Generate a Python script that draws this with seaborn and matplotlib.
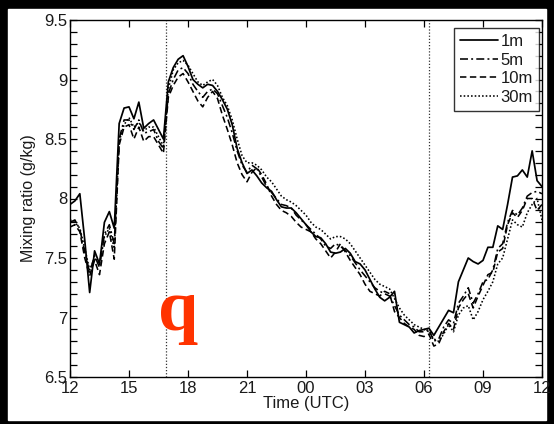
"""Near-surface mixing ratio at four heights, 12 UTC to 12 UTC."""

import matplotlib
matplotlib.use("Agg")
import matplotlib.pyplot as plt
from matplotlib.patches import Rectangle
from matplotlib.ticker import MultipleLocator, FixedLocator, FuncFormatter
import numpy as np
import pandas as pd
import seaborn as sns

sns.set_theme(style="white")
plt.rcParams["font.family"] = ["Liberation Sans", "DejaVu Sans"]

# hours after 12 UTC, 15-min steps
hours = [i * 0.25 for i in range(97)]
heights = ["1m", "5m", "10m", "30m"]

q_1m = [7.95, 7.98, 8.04, 7.65, 7.21, 7.56, 7.45, 7.80, 7.89, 7.75,
        8.63, 8.76, 8.77, 8.67, 8.81, 8.59, 8.63, 8.66, 8.58, 8.50,
        8.98, 9.10, 9.17, 9.20, 9.11, 9.00, 8.96, 8.93, 8.96, 8.95,
        8.90, 8.83, 8.75, 8.62, 8.42, 8.30, 8.21, 8.24, 8.19, 8.13,
        8.09, 8.06, 7.99, 7.93, 7.92, 7.92, 7.88, 7.83, 7.78, 7.72,
        7.68, 7.67, 7.62, 7.55, 7.54, 7.55, 7.58, 7.54, 7.47, 7.45,
        7.40, 7.32, 7.24, 7.17, 7.14, 7.17, 7.22, 6.96, 6.94, 6.92,
        6.87, 6.89, 6.90, 6.91, 6.85, 6.92, 6.99, 7.06, 7.04, 7.30,
        7.40, 7.50, 7.47, 7.45, 7.48, 7.59, 7.59, 7.77, 7.74, 7.95,
        8.18, 8.19, 8.24, 8.18, 8.40, 8.15, 8.10]
q_5m = [7.80, 7.82, 7.74, 7.55, 7.38, 7.52, 7.42, 7.70, 7.78, 7.62,
        8.50, 8.66, 8.66, 8.58, 8.66, 8.55, 8.56, 8.58, 8.48, 8.42,
        8.88, 9.00, 9.08, 9.10, 9.05, 8.96, 8.90, 8.85, 8.90, 8.92,
        8.88, 8.78, 8.68, 8.55, 8.40, 8.28, 8.22, 8.28, 8.25, 8.18,
        8.10, 8.05, 8.00, 7.95, 7.94, 7.92, 7.86, 7.82, 7.78, 7.74,
        7.70, 7.66, 7.60, 7.58, 7.62, 7.60, 7.56, 7.52, 7.46, 7.40,
        7.35, 7.30, 7.25, 7.22, 7.20, 7.18, 7.10, 7.02, 6.98, 6.94,
        6.92, 6.88, 6.88, 6.90, 6.80, 6.82, 6.92, 6.98, 6.95, 7.12,
        7.18, 7.25, 7.12, 7.20, 7.30, 7.32, 7.40, 7.58, 7.62, 7.80,
        7.90, 7.86, 7.92, 8.02, 8.05, 8.06, 8.04]
q_10m = [7.76, 7.78, 7.72, 7.50, 7.35, 7.48, 7.36, 7.62, 7.72, 7.49,
         8.45, 8.60, 8.62, 8.50, 8.60, 8.48, 8.52, 8.52, 8.45, 8.38,
         8.85, 8.95, 9.02, 9.05, 8.98, 8.90, 8.82, 8.77, 8.85, 8.90,
         8.84, 8.70, 8.58, 8.45, 8.30, 8.20, 8.14, 8.22, 8.26, 8.20,
         8.12, 8.02, 7.95, 7.90, 7.88, 7.85, 7.80, 7.76, 7.74, 7.72,
         7.66, 7.62, 7.56, 7.50, 7.55, 7.62, 7.55, 7.48, 7.42, 7.36,
         7.28, 7.22, 7.20, 7.18, 7.22, 7.20, 7.05, 7.00, 6.95, 6.92,
         6.90, 6.85, 6.84, 6.86, 6.76, 6.78, 6.88, 6.95, 6.90, 7.08,
         7.15, 7.20, 7.08, 7.18, 7.27, 7.36, 7.38, 7.55, 7.58, 7.78,
         7.88, 7.84, 7.90, 8.00, 8.00, 7.90, 7.95]
q_30m = [7.82, 7.80, 7.75, 7.58, 7.40, 7.50, 7.45, 7.68, 7.75, 7.58,
         8.48, 8.62, 8.68, 8.60, 8.64, 8.57, 8.60, 8.60, 8.52, 8.44,
         8.92, 9.08, 9.14, 9.16, 9.12, 9.05, 8.98, 8.95, 8.98, 9.00,
         8.95, 8.85, 8.78, 8.66, 8.50, 8.36, 8.30, 8.30, 8.28, 8.24,
         8.18, 8.14, 8.08, 8.02, 7.99, 7.97, 7.94, 7.90, 7.86, 7.80,
         7.76, 7.74, 7.70, 7.66, 7.68, 7.68, 7.66, 7.62, 7.56, 7.50,
         7.44, 7.38, 7.32, 7.28, 7.26, 7.24, 7.16, 7.08, 7.02, 6.98,
         6.94, 6.92, 6.90, 6.88, 6.82, 6.80, 6.86, 6.94, 6.88, 7.02,
         7.08, 7.10, 6.98, 7.05, 7.15, 7.22, 7.30, 7.45, 7.50, 7.66,
         7.82, 7.78, 7.76, 7.88, 7.95, 8.00, 7.82]

tick_labels = ["12", "15", "18", "21", "00", "03", "06", "09", "12"]
marker_hours = [4.9, 18.27]   # dotted reference times (16:54 and 06:16 UTC)

series = {"1m": q_1m, "5m": q_5m, "10m": q_10m, "30m": q_30m}
line_styles = {"1m": "-", "5m": (0, (5, 2, 1.2, 2)), "10m": (0, (4, 2.2)), "30m": (0, (1, 1.3))}
ink = "#1a1a1a"

fig = plt.figure(figsize=(5.54, 4.24), dpi=100, facecolor="black")
fig.patches.append(Rectangle((8 / 554, 4 / 424), 538 / 554, 411 / 424,
                             transform=fig.transFigure, facecolor="white", zorder=-10))
ax = fig.add_axes([70 / 554, 47 / 424, 472 / 554, 357 / 424])
ax.set_facecolor("white")

for name in heights:
    sns.lineplot(x=hours, y=series[name], color="black", linestyle=line_styles[name],
                 linewidth=1.25 if name == "1m" else 1.15, label=name, ax=ax)

for h in marker_hours:
    ax.axvline(h, color="#333333", linestyle=(0, (1, 1.5)), linewidth=0.9, zorder=1)

ax.text(5.5, 6.895, "q", color="#ff3300", fontsize=52, fontweight="bold",
        family=["Liberation Serif", "DejaVu Serif"], ha="center", va="baseline", zorder=5)

ax.set_xlim(0, 24)
ax.set_ylim(6.5, 9.5)
ax.xaxis.set_major_locator(FixedLocator(np.arange(0, 25, 3)))
ax.set_xticklabels(tick_labels)
ax.yaxis.set_major_locator(MultipleLocator(0.5))
ax.yaxis.set_minor_locator(MultipleLocator(0.1))
ax.yaxis.set_major_formatter(FuncFormatter(lambda v, p: f"{v:g}"))
ax.tick_params(which="both", direction="in", top=True, right=True, bottom=True, left=True,
               length=5, width=0.9, color="black", labelsize=12, labelcolor=ink, pad=3)
ax.tick_params(axis="y", pad=2)
for s in ax.spines.values():
    s.set_color("black"); s.set_linewidth(1.0)

ax.set_xlabel("Time (UTC)", fontsize=12, color=ink, labelpad=0)
ax.set_ylabel("Mixing ratio (g/kg)", fontsize=11.5, color=ink, labelpad=6)

leg = ax.legend(loc="upper right", bbox_to_anchor=(0.9936, 0.9775), borderaxespad=0,
                fontsize=12, frameon=True, fancybox=False, edgecolor="black",
                handlelength=2.3, handletextpad=0.15, labelspacing=0.22, borderpad=0.35)
leg.get_frame().set_linewidth(1.0)
for t in leg.get_texts():
    t.set_color(ink)

fig.savefig("out.png", dpi=100, facecolor=fig.get_facecolor())
